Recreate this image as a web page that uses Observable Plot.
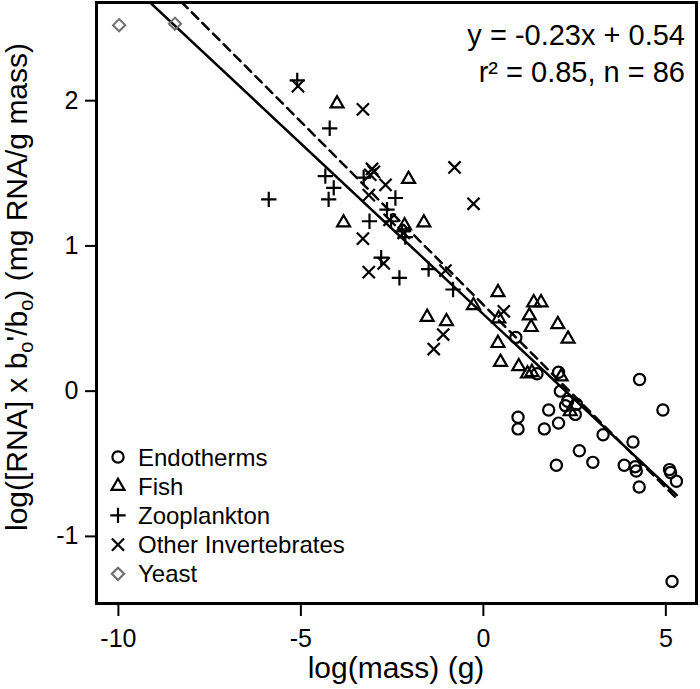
<!DOCTYPE html>
<html><head><meta charset="utf-8">
<script src="https://cdn.jsdelivr.net/npm/d3@7"></script>
<script src="https://cdn.jsdelivr.net/npm/@observablehq/plot@0.6"></script>
<style>
body{margin:0;background:#fff;}
#chart svg{display:block;}
</style></head>
<body><div id="chart"></div>
<script>
// [log(mass), log(RNA x bo'/bo)]
const endotherms = [[0.89,0.37],[1.47,0.12],[2.06,0.13],[4.28,0.08],[2.11,0.0],[2.31,-0.07],[2.25,-0.10],[2.55,-0.09],[2.52,-0.16],[1.79,-0.13],[0.95,-0.18],[0.95,-0.26],[1.67,-0.26],[2.06,-0.22],[4.92,-0.13],[3.28,-0.30],[4.10,-0.35],[2.63,-0.41],[2.0,-0.51],[3.0,-0.49],[3.86,-0.51],[4.16,-0.52],[4.19,-0.55],[4.27,-0.66],[5.1,-0.54],[5.13,-0.56],[5.29,-0.62],[5.17,-1.31]];
const fish = [[-4.01,1.98],[-2.05,1.46],[-3.83,1.16],[-1.63,1.16],[-2.16,1.14],[-1.54,0.51],[-1.01,0.48],[-0.27,0.59],[0.40,0.68],[0.42,0.50],[0.40,0.33],[0.47,0.20],[0.97,0.17],[1.38,0.61],[1.58,0.61],[1.26,0.52],[1.31,0.44],[2.04,0.46],[2.32,0.36],[1.21,0.12],[1.33,0.13],[2.13,0.10],[2.38,-0.14]];
const zooplankton = [[-5.10,2.14],[-4.21,1.81],[-4.33,1.48],[-4.10,1.40],[-4.24,1.32],[-5.88,1.32],[-3.28,1.47],[-2.41,1.33],[-2.64,1.25],[-2.53,1.17],[-3.12,1.17],[-2.23,1.10],[-2.14,1.06],[-2.80,0.92],[-2.30,0.78],[-1.50,0.84],[-0.83,0.70]];
const invertebrates = [[-5.08,2.10],[-3.30,1.94],[-0.79,1.54],[-0.27,1.29],[-3.05,1.53],[-3.0,1.51],[-3.1,1.49],[-2.68,1.42],[-3.14,1.35],[-2.57,1.18],[-2.18,1.09],[-3.30,1.05],[-2.73,0.88],[-3.14,0.82],[-1.04,0.83],[-1.10,0.39],[-1.36,0.29],[0.56,0.55]];
const yeast = [[-9.98,2.52],[-8.45,2.53]];

const xTicks = [-10, -5, 0, 5];
const yTicks = [-1, 0, 1, 2];
const lineRange = [-10.6, 5.3];
const fitSolid = {slope: -0.235, intercept: 0.53};
const fitDashed = {slope: -0.252, intercept: 0.595};
const annotation = ["y = -0.23x + 0.54", "r\u00b2 = 0.85, n = 86"];
const legendLabels = ["Endotherms", "Fish", "Zooplankton", "Other Invertebrates", "Yeast"];
const xTitle = "log(mass) (g)";

const solidLine = lineRange.map(x => ({x, y: fitSolid.slope * x + fitSolid.intercept}));
const dashedLine = lineRange.map(x => ({x, y: fitDashed.slope * x + fitDashed.intercept}));

const FONT = "Liberation Sans, Arial, Helvetica, sans-serif";
const px = d => d[0], py = d => d[1];
// symbol radii (Plot r), chosen so glyphs are about 13px across
const R = {circle: 5.6, triangle2: 6.2, plus: 5.0, times: 5.6, diamond2: 5.5};

const plot = Plot.plot({
  width: 700, height: 689,
  marginLeft: 96, marginRight: 4, marginTop: 2, marginBottom: 86,
  x: {domain: [-10.6, 5.84]},
  y: {domain: [-1.462, 2.676]},
  style: {fontFamily: FONT, background: "white", color: "black", overflow: "visible"},
  marks: [
    Plot.axisX({ticks: xTicks, tickSize: 13, tickPadding: 13, fontSize: 25, strokeWidth: 2, label: null, tickFormat: d => String(d)}),
    Plot.axisY({ticks: yTicks, tickSize: 11, tickPadding: 7, fontSize: 25, strokeWidth: 2, label: null, tickFormat: d => String(d)}),
    Plot.line(solidLine, {x: "x", y: "y", stroke: "black", strokeWidth: 2.5, clip: true}),
    Plot.line(dashedLine, {x: "x", y: "y", stroke: "black", strokeWidth: 2.5, strokeDasharray: "9,6", clip: true}),
    Plot.dot(endotherms, {x: px, y: py, symbol: "circle", r: R.circle, stroke: "black", strokeWidth: 2.2, fill: "none"}),
    Plot.dot(fish, {x: px, y: py, symbol: "triangle2", r: R.triangle2, stroke: "black", strokeWidth: 2.2, fill: "none"}),
    Plot.dot(zooplankton, {x: px, y: py, symbol: "plus", r: R.plus, stroke: "black", strokeWidth: 2.2, fill: "none"}),
    Plot.dot(invertebrates, {x: px, y: py, symbol: "times", r: R.times, stroke: "black", strokeWidth: 2.2, fill: "none"}),
    Plot.dot(yeast, {x: px, y: py, symbol: "diamond2", r: R.diamond2, stroke: "#6f6f6f", strokeWidth: 2, fill: "none"}),
    Plot.frame({stroke: "black", strokeWidth: 3})
  ]
});

const svg = d3.select(plot);
// axis titles
svg.append("text").attr("x", 396).attr("y", 678).attr("text-anchor", "middle")
  .attr("font-family", FONT).attr("font-size", 30).attr("fill", "black").text(xTitle);
const yt = svg.append("text").attr("transform", "translate(27,287) rotate(-90)")
  .attr("text-anchor", "middle").attr("font-family", FONT).attr("font-size", 30).attr("fill", "black");
yt.append("tspan").text("log([RNA] x b");
yt.append("tspan").attr("font-size", 20).attr("dy", 6).text("o");
yt.append("tspan").attr("dy", -6).text("'/b");
yt.append("tspan").attr("font-size", 20).attr("dy", 6).text("o");
yt.append("tspan").attr("dy", -6).text(") (mg RNA/g mass)");

// annotation
annotation.forEach((t, i) => {
  svg.append("text").attr("x", 685).attr("y", 45 + i * 37).attr("text-anchor", "end")
    .attr("font-family", FONT).attr("font-size", 29).attr("fill", "black").text(t);
});

// legend
const legendSymbols = [d3.symbolCircle, d3.symbolTriangle2, d3.symbolPlus, d3.symbolTimes, d3.symbolDiamond2];
const legendR = [R.circle, R.triangle2, R.plus, R.times, R.diamond2];
const legendColors = ["black", "black", "black", "black", "#6f6f6f"];
const lg = svg.append("g");
legendLabels.forEach((label, i) => {
  const cy = 457 + i * 29.2;
  lg.append("path").attr("transform", `translate(118,${cy})`)
    .attr("d", d3.symbol(legendSymbols[i], Math.PI * legendR[i] * legendR[i])())
    .attr("fill", "none").attr("stroke", legendColors[i]).attr("stroke-width", 2.2);
  lg.append("text").attr("x", 138).attr("y", cy + 8.5).attr("text-anchor", "start")
    .attr("font-family", FONT).attr("font-size", 24).attr("fill", "black").text(label);
});

document.getElementById("chart").appendChild(plot);
</script>
</body></html>
